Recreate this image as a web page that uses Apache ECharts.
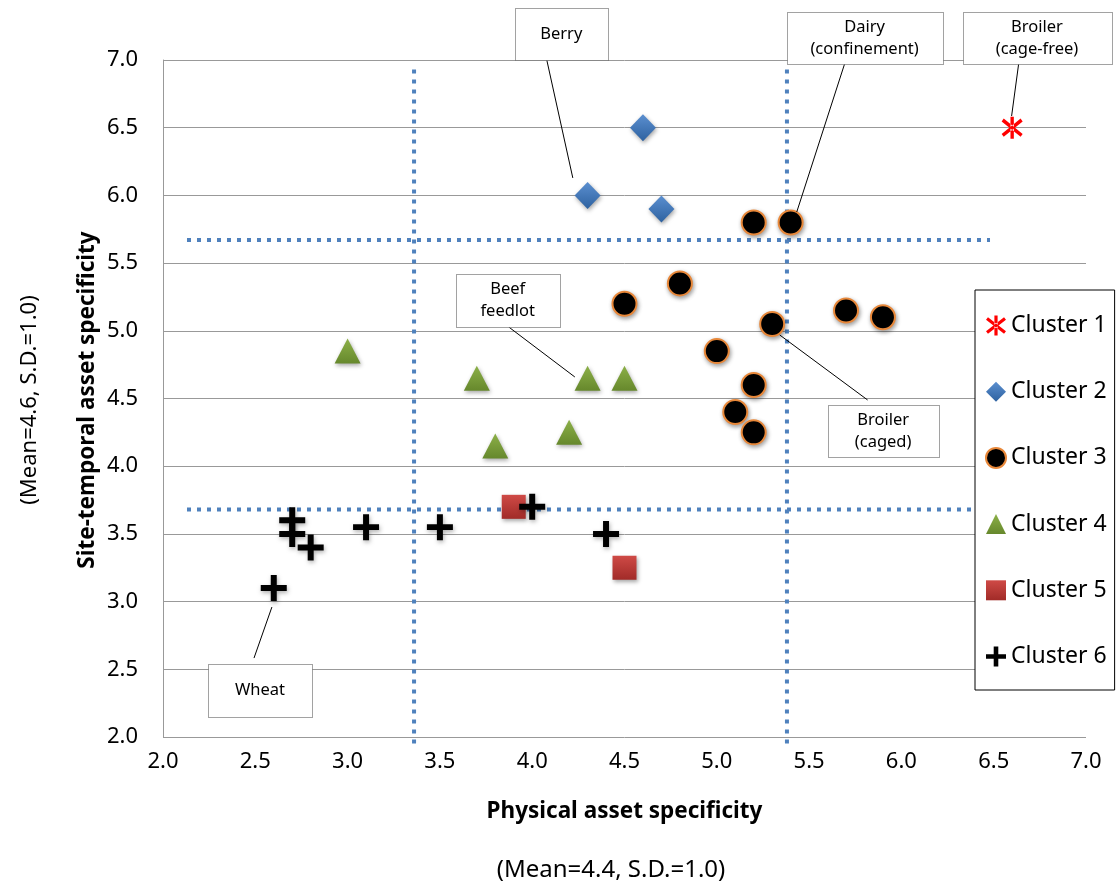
<!DOCTYPE html>
<html>
<head>
<meta charset="utf-8">
<script src="https://cdn.jsdelivr.net/npm/echarts@6/dist/echarts.min.js"></script>
<style>html,body{margin:0;padding:0;background:#fff}#c{width:1118px;height:886px}</style>
</head>
<body>
<div id="c"></div>
<script>
// ---- data ----
const clusterNames = ['Cluster 1','Cluster 2','Cluster 3','Cluster 4','Cluster 5','Cluster 6'];
const cluster1 = [[6.6,6.5]];
const cluster2 = [[4.6,6.5],[4.3,6.0],[4.7,5.9]];
const cluster3 = [[5.2,5.8],[5.4,5.8],[4.8,5.35],[4.5,5.2],[5.7,5.15],[5.9,5.1],[5.3,5.05],[5.0,4.85],[5.2,4.6],[5.1,4.4],[5.2,4.25]];
const cluster4 = [[3.0,4.85],[3.7,4.65],[4.3,4.65],[4.5,4.65],[3.8,4.15],[4.2,4.25]];
const cluster5 = [[3.9,3.7],[4.5,3.25]];
const cluster6 = [[2.7,3.6],[2.7,3.5],[2.8,3.4],[2.6,3.1],[3.1,3.55],[3.5,3.55],[4.0,3.7],[4.4,3.5]];
const xMeanLines = [3.36, 5.38];
const yMeanLines = [5.67, 3.68];
const xRange = [2.0, 7.0];
const yRange = [2.0, 7.0];
const tickStep = 0.5;
const xTitle = 'Physical asset specificity';
const xSub = '(Mean=4.4, S.D.=1.0)';
const yTitle = 'Site-temporal asset specificity';
const ySub = '(Mean=4.6, S.D.=1.0)';
// annotations: label, box [x1,y1,x2,y2] and leader [xa,ya,xb,yb] in data units
const annLabels = ['Berry','Dairy\n(confinement)','Broiler\n(cage-free)','Beef\nfeedlot','Broiler\n(caged)','Wheat'];
const annBoxes = [[3.906,7.384,4.409,7.0],[5.378,7.355,6.223,6.970],[6.331,7.355,7.138,6.970],[3.586,5.419,4.149,5.028],[5.601,4.452,6.201,4.068],[2.244,2.539,2.807,2.148]];
const annLeaders = [[4.079,7.0,4.220,6.129],[5.692,6.970,5.433,5.877],[6.635,6.970,6.597,6.586],[3.873,5.028,4.231,4.659],[5.817,4.489,5.341,4.969],[2.493,2.583,2.590,2.960]];

// ---- styles ----
const FONT = 'Noto Sans';
const G = echarts.graphic;
const shadow = {opacity:1, shadowBlur:4, shadowColor:'rgba(0,0,0,0.35)', shadowOffsetX:1, shadowOffsetY:2};
const asteriskPath = 'path://M0.02,4.26L1.98,1.74L19.98,15.74L18.02,18.26Z M1.98,18.26L0.02,15.74L18.02,1.74L19.98,4.26Z M8.4,0L8.4,20L11.6,20L11.6,0Z';
const plusPath = 'path://M3.85,0H6.15V3.85H10V6.15H6.15V10H3.85V6.15H0V3.85H3.85Z';

const dotted = {color:'#4f81bd', width:4, type:[4,6], cap:'butt', opacity:1};
const refSeries = [];
xMeanLines.forEach(v => refSeries.push({type:'line', data:[[v,6.93],[v,1.94]], symbol:'none', clip:false, silent:true, lineStyle:dotted, z:1}));
yMeanLines.forEach(v => refSeries.push({type:'line', data:[[2.13,v],[6.48,v]], symbol:'none', clip:false, silent:true, lineStyle:dotted, z:1}));

const option = {
  animation:false,
  backgroundColor:'#fff',
  grid:{left:163, right:32, top:60, bottom:149, containLabel:false},
  xAxis:{type:'value', min:xRange[0], max:xRange[1], interval:tickStep,
    axisLine:{show:false}, axisTick:{show:false}, splitLine:{show:false},
    axisLabel:{formatter:v=>v.toFixed(1), color:'#000', fontFamily:FONT, fontSize:22, margin:14}},
  yAxis:{type:'value', min:yRange[0], max:yRange[1], interval:tickStep,
    axisLine:{show:true, lineStyle:{color:'#999', width:1}}, axisTick:{show:false},
    splitLine:{show:true, lineStyle:{color:'#999', width:1}},
    axisLabel:{formatter:v=>v.toFixed(1), color:'#000', fontFamily:FONT, fontSize:22, margin:25}},
  legend:{orient:'vertical', left:975, top:290, data:clusterNames,
    backgroundColor:'#fff', borderColor:'#000', borderWidth:1, padding:[24,8,22,10],
    itemWidth:20, itemHeight:20, itemGap:43.2,
    textStyle:{fontFamily:FONT, fontSize:23, color:'#000'}},
  series:[
    ...refSeries,
    {name:'Cluster 1', type:'scatter', data:cluster1, symbol:asteriskPath, symbolSize:[21,22], z:5,
      itemStyle:{color:'#ff0000', opacity:1}},
    {name:'Cluster 2', type:'scatter', data:cluster2, symbol:'diamond', symbolSize:[26,27], z:5,
      itemStyle:Object.assign({color:new G.LinearGradient(0,0,0,1,[{offset:0,color:'#5b8fd0'},{offset:1,color:'#2e62a0'}])}, shadow)},
    {name:'Cluster 3', type:'scatter', data:cluster3, symbol:'circle', symbolSize:24, z:5,
      itemStyle:Object.assign({color:'#000', borderColor:'#e8883a', borderWidth:2}, shadow)},
    {name:'Cluster 4', type:'scatter', data:cluster4, symbol:'triangle', symbolSize:[26,25], z:5,
      itemStyle:Object.assign({color:new G.LinearGradient(0,0,0,1,[{offset:0,color:'#8cb048'},{offset:1,color:'#66882c'}])}, shadow)},
    {name:'Cluster 5', type:'scatter', data:cluster5, symbol:'rect', symbolSize:24, z:5,
      itemStyle:Object.assign({color:new G.LinearGradient(0,0,0,1,[{offset:0,color:'#cf4a46'},{offset:1,color:'#a12b28'}])}, shadow)},
    {name:'Cluster 6', type:'scatter', data:cluster6, symbol:plusPath, symbolSize:26, z:6,
      itemStyle:{color:'#000', opacity:1, shadowBlur:4, shadowColor:'rgba(0,0,0,0.3)', shadowOffsetX:1, shadowOffsetY:2}}
  ]
};

const chart = echarts.init(document.getElementById('c'), null, {renderer:'canvas'});
chart.setOption(option);

const px = p => chart.convertToPixel({gridIndex:0}, p);
const graphics = [];
annLabels.forEach((lab, i) => {
  const b = annBoxes[i], l = annLeaders[i];
  const p1 = px([b[0], b[1]]), p2 = px([b[2], b[3]]);
  const a = px([l[0], l[1]]), c = px([l[2], l[3]]);
  graphics.push({type:'line', z:50, silent:true, shape:{x1:a[0], y1:a[1], x2:c[0], y2:c[1]}, style:{stroke:'#000', lineWidth:1}});
  graphics.push({type:'rect', z:51, silent:true, shape:{x:Math.round(p1[0])+0.5, y:Math.round(p1[1])+0.5, width:Math.round(p2[0]-p1[0]), height:Math.round(p2[1]-p1[1])},
    style:{fill:'#fff', stroke:'#444', lineWidth:1, lineDash:[1,1]}});
  graphics.push({type:'text', z:52, silent:true, x:(p1[0]+p2[0])/2, y:(p1[1]+p2[1])/2,
    style:{text:lab, align:'center', verticalAlign:'middle', fontFamily:FONT, fontSize:16.5, lineHeight:22, fill:'#000'}});
});
const midX = (px([xRange[0], 0])[0] + px([xRange[1], 0])[0]) / 2;
graphics.push({type:'text', x:midX, y:812, style:{text:xTitle, align:'center', verticalAlign:'middle', fontFamily:FONT, fontSize:22.5, fontWeight:'bold', fill:'#000'}});
graphics.push({type:'text', x:611, y:870, style:{text:xSub, align:'center', verticalAlign:'middle', fontFamily:FONT, fontSize:24, fill:'#000'}});
graphics.push({type:'text', x:88, y:400, rotation:Math.PI/2, style:{text:yTitle, align:'center', verticalAlign:'middle', fontFamily:FONT, fontSize:22.5, fontWeight:'bold', fill:'#000'}});
graphics.push({type:'text', x:30, y:400, rotation:Math.PI/2, style:{text:ySub, align:'center', verticalAlign:'middle', fontFamily:FONT, fontSize:22, fill:'#000'}});
chart.setOption({graphic:graphics});
</script>
</body>
</html>
